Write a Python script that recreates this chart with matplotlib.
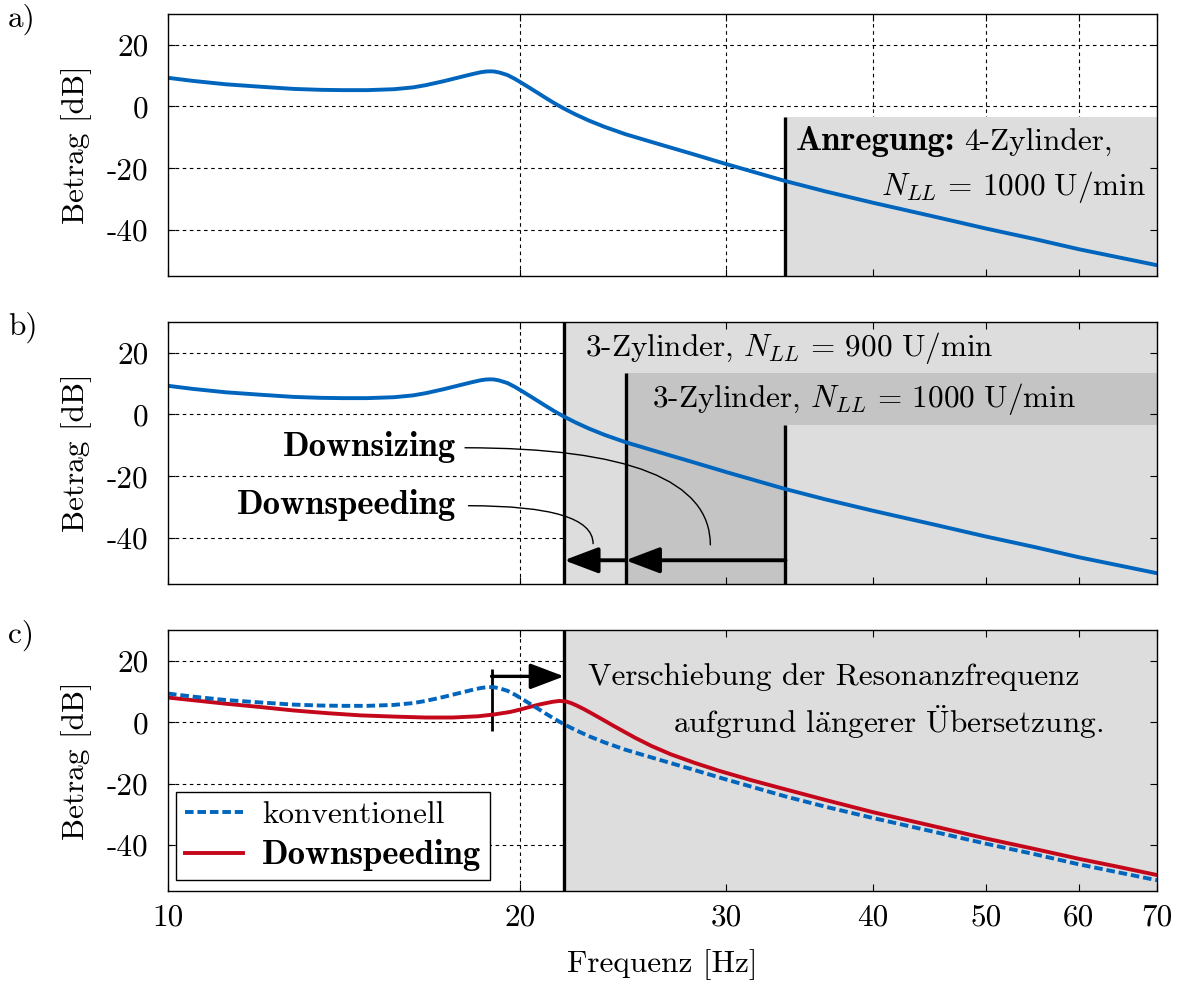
import matplotlib
matplotlib.use('Agg')
import matplotlib.pyplot as plt
from matplotlib.patches import Rectangle
from matplotlib.ticker import FixedLocator, FixedFormatter, NullFormatter, NullLocator

FS = 22.5
FS_BOLD = 25
plt.rcParams['font.family'] = ['cmr10', 'DejaVu Serif']
plt.rcParams['mathtext.fontset'] = 'cm'
plt.rcParams['axes.unicode_minus'] = False
plt.rcParams['font.size'] = FS
plt.rcParams['axes.formatter.use_mathtext'] = True

BOLD = ['cmb10', 'DejaVu Serif']

# ---------------- data ----------------
freq_conv = [10, 10.5, 11.2, 12.0, 12.8, 13.5, 14.1, 14.8, 15.6, 16.2, 16.6, 17.2,
             17.8, 18.2, 18.5, 18.7, 18.86, 19.0, 19.2, 19.5, 19.8, 20.1, 20.4,
             20.7, 21.0, 21.4, 21.8, 22.3, 22.9, 23.6, 24.6, 26.1, 28.0, 30.0,
             33.7, 36.5, 40.0, 45.0, 50.0, 55.0, 60.0, 65.0, 70.0]
mag_conv = [9.3, 8.3, 7.2, 6.4, 5.7, 5.4, 5.3, 5.3, 5.6, 6.2, 6.9, 8.2,
            9.6, 10.5, 11.1, 11.35, 11.4, 11.35, 11.0, 10.2, 8.9, 7.4, 5.9,
            4.4, 2.9, 1.0, -0.7, -2.6, -4.6, -6.6, -9.0, -11.9, -15.3, -18.7,
            -24.2, -27.6, -31.2, -35.6, -39.6, -43.0, -46.3, -49.0, -51.5]

freq_down = [10, 11.2, 12.0, 12.8, 13.7, 14.6, 15.6, 16.6, 17.5, 18.4, 19.0, 19.6,
             20.0, 20.4, 20.8, 21.3, 21.6, 21.9, 22.1, 22.35, 22.7, 23.1, 23.5,
             24.0, 24.5, 25.1, 25.9, 26.9, 28.2, 29.6, 31.5, 33.7, 36.5, 40.0,
             45.0, 50.0, 55.0, 60.0, 65.0, 70.0]
mag_down = [8.0, 6.0, 4.9, 3.8, 2.9, 2.2, 1.8, 1.5, 1.5, 1.9, 2.5, 3.3,
            4.1, 5.0, 5.8, 6.6, 6.9, 6.7, 6.2, 5.4, 4.1, 2.5, 0.9,
            -1.1, -3.0, -5.2, -7.8, -10.5, -13.3, -15.9, -18.9, -21.9, -25.4, -29.3,
            -33.8, -37.9, -41.3, -44.5, -47.2, -49.8]

x_ticks = [10, 20, 30, 40, 50, 60, 70]
x_tick_labels = ['10', '20', '30', '40', '50', '60', '70']
x_grid = [20, 30, 40, 50, 60]
y_ticks = [-40, -20, 0, 20]
y_tick_labels = ['-40', '-20', '0', '20']
x_range = (10, 70)
y_range = (-55, 30)

# excitation / resonance frequencies [Hz]
f_4cyl_1000 = 33.7
f_3cyl_900 = 21.8
f_3cyl_1000 = 24.6
f_res_conv = 18.9
f_res_down = 21.8
# band edges [dB]
band_top_4cyl = -3.4
band_top_3cyl_1000 = 13.4

BLUE = '#0065BD'
RED = '#C4071B'
LIGHT = '#DDDDDD'
DARK = '#C4C4C4'

W, H = 1178, 985
fig = plt.figure(figsize=(W / 100, H / 100), dpi=100)
left = 168 / W
width = 989 / W
ax_a = fig.add_axes([left, 1 - 276 / H, width, 262 / H])
ax_b = fig.add_axes([left, 1 - 584 / H, width, 262 / H])
ax_c = fig.add_axes([left, 1 - 891 / H, width, 261 / H])


def setup(ax, letter, xlabels):
    ax.set_xscale('log')
    ax.set_xlim(*x_range)
    ax.set_ylim(*y_range)
    ax.xaxis.set_major_locator(FixedLocator(x_ticks))
    ax.xaxis.set_minor_locator(NullLocator())
    if xlabels:
        ax.xaxis.set_major_formatter(FixedFormatter(x_tick_labels))
    else:
        ax.xaxis.set_major_formatter(NullFormatter())
    ax.yaxis.set_major_locator(FixedLocator(y_ticks))
    ax.yaxis.set_major_formatter(FixedFormatter(y_tick_labels))
    ax.yaxis.set_minor_locator(NullLocator())
    ax.tick_params(axis='both', which='major', direction='in', length=5, width=0.8,
                   top=True, right=True, labelsize=FS)
    ax.tick_params(axis='y', pad=14)
    ax.tick_params(axis='x', pad=9)
    for s in ax.spines.values():
        s.set_linewidth(1.0)
        s.set_zorder(6)
    for g in x_grid:
        ax.axvline(g, color='k', lw=0.8, dashes=(3.2, 3.2), zorder=0.5)
    for g in y_ticks:
        ax.axhline(g, color='k', lw=0.8, dashes=(3.2, 3.2), zorder=0.5)
    ax.set_ylabel('Betrag [dB]', fontsize=FS, labelpad=11)
    ax.text(-0.162, 0.981, letter, transform=ax.transAxes, ha='left', va='center', fontsize=FS)


def vline(ax, x, y0, y1, lw=2.4):
    ax.plot([x, x], [y0, y1], color='k', lw=lw, zorder=2, solid_capstyle='butt')


def harrow(ax, x0, x1, y, lw=2.8):
    ax.annotate('', xy=(x1, y), xytext=(x0, y), zorder=4,
                arrowprops=dict(arrowstyle='-|>,head_length=0.95,head_width=0.36',
                                lw=lw, color='k', shrinkA=0, shrinkB=0,
                                mutation_scale=22))


NLL = r'$N_{LL}\,=\,%s\ \mathrm{U/min}$'

# ---------------- a) ----------------
ax = ax_a
setup(ax, 'a)', False)
ax.add_patch(Rectangle((f_4cyl_1000, y_range[0]), x_range[1] - f_4cyl_1000,
                       band_top_4cyl - y_range[0], facecolor=LIGHT, edgecolor='none', zorder=1))
vline(ax, f_4cyl_1000, y_range[0], band_top_4cyl)
ax.plot(freq_conv, mag_conv, color=BLUE, lw=2.8, zorder=3)
t1 = ax.text(34.4, -14.2, 'Anregung:', ha='left', va='baseline', family=BOLD,
             fontsize=FS_BOLD, zorder=5)
ax.annotate('4-Zylinder,', xy=(1, 0), xycoords=t1, xytext=(6, 0), textcoords='offset points',
            ha='left', va='bottom', zorder=5)
ax.text(68.6, -28.8, NLL % '1000', ha='right', va='baseline', zorder=5)

# ---------------- b) ----------------
ax = ax_b
setup(ax, 'b)', False)
ax.add_patch(Rectangle((f_3cyl_900, y_range[0]), x_range[1] - f_3cyl_900,
                       y_range[1] - y_range[0], facecolor=LIGHT, edgecolor='none', zorder=1))
ax.add_patch(Rectangle((f_3cyl_1000, band_top_4cyl), x_range[1] - f_3cyl_1000,
                       band_top_3cyl_1000 - band_top_4cyl, facecolor=DARK, edgecolor='none', zorder=1.1))
ax.add_patch(Rectangle((f_3cyl_1000, y_range[0]), f_4cyl_1000 - f_3cyl_1000,
                       band_top_4cyl - y_range[0], facecolor=DARK, edgecolor='none', zorder=1.1))
vline(ax, f_3cyl_900, y_range[0], y_range[1])
vline(ax, f_3cyl_1000, y_range[0], band_top_3cyl_1000)
vline(ax, f_4cyl_1000, y_range[0], band_top_4cyl)
ax.plot(freq_conv, mag_conv, color=BLUE, lw=2.8, zorder=3)
harrow(ax, f_4cyl_1000, f_3cyl_1000, -47.3)
harrow(ax, f_3cyl_1000, f_3cyl_900, -47.3)
ax.text(22.7, 18.9, '3-Zylinder, ' + NLL % '900', ha='left', va='baseline', zorder=5)
ax.text(25.9, 2.3, '3-Zylinder, ' + NLL % '1000', ha='left', va='baseline', zorder=5)
ax.text(17.63, -13.4, 'Downsizing', ha='right', va='baseline', family=BOLD,
        fontsize=FS_BOLD, zorder=5)
ax.text(17.63, -32.3, 'Downspeeding', ha='right', va='baseline', family=BOLD,
        fontsize=FS_BOLD, zorder=5)
ax.annotate('', xy=(29.07, -42.3), xytext=(17.94, -10.8), zorder=4,
            arrowprops=dict(arrowstyle='-', lw=1.0, color='k', shrinkA=0, shrinkB=0,
                            connectionstyle='angle3,angleA=0,angleB=90'))
ax.annotate('', xy=(23.08, -41.9), xytext=(18.06, -29.6), zorder=4,
            arrowprops=dict(arrowstyle='-', lw=1.0, color='k', shrinkA=0, shrinkB=0,
                            connectionstyle='angle3,angleA=0,angleB=90'))

# ---------------- c) ----------------
ax = ax_c
setup(ax, 'c)', True)
ax.add_patch(Rectangle((f_res_down, y_range[0]), x_range[1] - f_res_down,
                       y_range[1] - y_range[0], facecolor=LIGHT, edgecolor='none', zorder=1))
vline(ax, f_res_down, y_range[0], y_range[1])
vline(ax, f_res_conv, -2.8, 17.3, lw=2.0)
harrow(ax, f_res_conv, f_res_down, 14.9, lw=2.4)
l2, = ax.plot(freq_down, mag_down, color=RED, lw=2.8, zorder=3, label='Downspeeding')
l1, = ax.plot(freq_conv, mag_conv, color=BLUE, lw=2.8, dashes=(2.2, 1.0), zorder=3.5,
              label='konventionell')
ax.text(22.84, 12.0, 'Verschiebung der Resonanzfrequenz', ha='left', va='baseline', zorder=5)
ax.text(27.0, -3.7, r'aufgrund l$\mathrm{\ddot{a}}$ngerer $\mathrm{\ddot{U}}$bersetzung.',
        ha='left', va='baseline', zorder=5)
ax.set_xlabel('Frequenz [Hz]', fontsize=FS, labelpad=13)
leg = ax.legend(handles=[l1, l2], loc='lower left', bbox_to_anchor=(0.008, 0.042),
                borderaxespad=0, frameon=True, fancybox=False, edgecolor='k', framealpha=1,
                handlelength=1.85, handletextpad=0.6, borderpad=0.3, labelspacing=0.3,
                fontsize=FS)
leg.get_frame().set_linewidth(1.0)
leg.get_texts()[1].set_fontfamily(BOLD)
leg.get_texts()[1].set_fontsize(FS_BOLD)
leg.set_zorder(7)

fig.savefig('out.png', dpi=100)
